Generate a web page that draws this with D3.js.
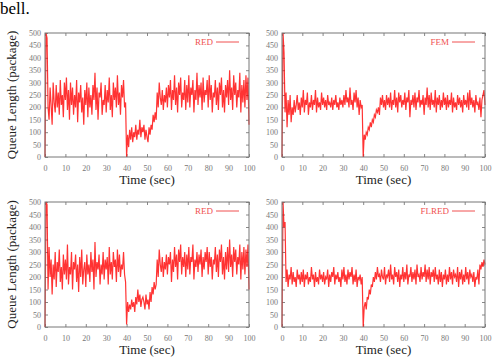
<!DOCTYPE html>
<html>
<head>
<meta charset="utf-8">
<script src="https://cdn.jsdelivr.net/npm/d3@7"></script>
<style>
  body { margin: 0; background: #fff; }
  svg { display: block; }
</style>
</head>
<body>
<div id="chart"></div>
<script>
// queue length samples, one every 0.5 sec from 0 to 100
const red1 = [
  0, 500, 480, 200, 150, 280, 210, 130, 300, 220, 180, 290, 200, 260, 170, 310, 210, 250, 160, 300,
  230, 320, 190, 270, 150, 300, 210, 280, 170, 250, 200, 310, 140, 260, 220, 290, 180, 240, 130, 270,
  210, 300, 160, 280, 200, 250, 170, 290, 230, 340, 190, 280, 150, 260, 240, 300, 170, 230, 210, 290,
  180, 270, 220, 320, 190, 250, 160, 300, 230, 280, 200, 330, 210, 260, 170, 290, 240, 310, 200, 220,
  0, 90, 40, 110, 70, 120, 60, 100, 80, 130, 70, 110, 90, 150, 80, 120, 100, 130, 70, 110,
  80, 60, 120, 90, 130, 110, 170, 140, 180, 150, 260, 200, 300, 240, 210, 270, 190, 250, 220, 280,
  200, 290, 240, 310, 190, 270, 230, 330, 210, 280, 180, 300, 250, 320, 200, 260, 230, 310, 190, 290,
  220, 330, 200, 280, 250, 310, 180, 270, 230, 340, 210, 290, 240, 300, 190, 320, 220, 270, 250, 310,
  200, 330, 230, 290, 180, 260, 240, 310, 210, 280, 190, 300, 250, 320, 200, 270, 180, 290, 240, 310,
  210, 350, 230, 280, 190, 330, 250, 300, 200, 270, 240, 340, 180, 290, 220, 310, 200, 330, 230, 320,
  130
];
const fem = [
  0, 500, 420, 180, 260, 120, 230, 170, 250, 140, 200, 170, 230, 180, 210, 250, 190, 220, 170, 240,
  200, 270, 180, 230, 210, 260, 170, 220, 200, 250, 190, 230, 210, 270, 180, 240, 200, 220, 190, 260,
  210, 240, 200, 230, 190, 250, 210, 220, 200, 240, 190, 230, 210, 250, 200, 220, 190, 240, 210, 230,
  200, 250, 210, 270, 220, 240, 200, 280, 210, 230, 190, 260, 220, 270, 200, 240, 170, 230, 200, 210,
  0, 90, 70, 100, 90, 120, 110, 140, 120, 150, 140, 170, 160, 190, 180, 200, 170, 240, 210, 250,
  200, 230, 190, 250, 210, 240, 200, 260, 190, 230, 210, 270, 200, 240, 180, 260, 220, 250, 200, 230,
  210, 260, 190, 240, 220, 270, 160, 230, 210, 250, 200, 260, 190, 240, 220, 270, 200, 230, 210, 250,
  170, 240, 210, 280, 200, 250, 190, 260, 210, 230, 200, 270, 180, 240, 210, 250, 190, 230, 200, 260,
  210, 240, 190, 250, 200, 230, 210, 260, 180, 240, 200, 220, 190, 250, 210, 240, 200, 230, 180, 250,
  210, 230, 200, 260, 190, 270, 210, 240, 200, 230, 180, 250, 210, 220, 190, 240, 160, 230, 250, 270,
  210
];
const red2 = [
  0, 500, 490, 150, 320, 200, 270, 130, 250, 190, 300, 160, 260, 220, 310, 180, 240, 150, 290, 210,
  270, 190, 330, 170, 240, 210, 300, 150, 260, 230, 290, 180, 250, 140, 280, 200, 310, 170, 230, 260,
  160, 290, 210, 250, 180, 300, 220, 270, 150, 340, 200, 260, 230, 290, 170, 250, 210, 300, 190, 270,
  230, 280, 170, 320, 210, 260, 190, 300, 240, 270, 180, 310, 220, 290, 200, 250, 230, 300, 210, 180,
  10, 100, 60, 90, 70, 110, 80, 100, 60, 120, 90, 150, 100, 130, 80, 110, 120, 100, 70, 130,
  90, 110, 70, 140, 100, 160, 130, 180, 150, 170, 270, 200, 310, 250, 220, 280, 200, 260, 230, 290,
  210, 280, 250, 300, 180, 270, 220, 320, 240, 290, 190, 310, 260, 330, 210, 280, 240, 300, 200, 290,
  230, 320, 210, 280, 260, 330, 190, 270, 240, 300, 220, 290, 250, 310, 200, 280, 230, 300, 260, 320,
  210, 300, 240, 280, 190, 270, 250, 320, 220, 290, 200, 310, 260, 330, 210, 280, 190, 300, 230, 320,
  220, 350, 240, 290, 200, 320, 260, 310, 210, 280, 250, 330, 190, 300, 230, 320, 210, 310, 240, 330,
  150
];
const flred = [
  0, 500, 400, 420, 180, 230, 160, 210, 190, 240, 170, 220, 180, 200, 160, 230, 190, 210, 170, 220,
  180, 230, 160, 210, 190, 220, 170, 200, 180, 240, 190, 210, 160, 220, 180, 200, 170, 230, 190, 210,
  180, 220, 170, 200, 190, 230, 160, 210, 180, 220, 200, 240, 170, 210, 190, 220, 180, 200, 160, 230,
  190, 240, 180, 210, 170, 230, 190, 220, 200, 240, 170, 210, 180, 230, 160, 200, 190, 210, 170, 200,
  0, 80, 100, 70, 120, 110, 150, 130, 170, 160, 200, 180, 220, 190, 240, 200, 210, 180, 230, 200,
  190, 240, 170, 210, 200, 230, 180, 250, 190, 210, 170, 240, 200, 220, 180, 230, 160, 210, 190, 240,
  180, 220, 190, 250, 170, 210, 200, 240, 180, 220, 190, 230, 170, 250, 200, 210, 180, 240, 190, 220,
  200, 250, 180, 230, 190, 240, 170, 220, 200, 230, 180, 240, 190, 210, 170, 230, 180, 220, 160, 210,
  190, 230, 170, 210, 180, 240, 190, 220, 170, 230, 200, 210, 180, 240, 160, 220, 190, 230, 170, 210,
  180, 240, 190, 220, 170, 230, 200, 210, 180, 220, 160, 200, 190, 230, 170, 250, 230, 260, 240, 270,
  250
];
const legends = ["RED", "FEM", "RED", "FLRED"];
const xTicks = [0, 10, 20, 30, 40, 50, 60, 70, 80, 90, 100];
const yTicks = [0, 50, 100, 150, 200, 250, 300, 350, 400, 450, 500];
const step = 0.5;

const W = 496, H = 358;
const svg = d3.select("#chart").append("svg")
  .attr("width", W).attr("height", H);

// leftover text from the page above the figure
svg.append("text")
  .attr("x", 0).attr("y", 14)
  .style("font-family", "Liberation Serif")
  .style("font-size", "17px")
  .text("bell.");

const panels = [
  { data: red1, name: legends[0], left: 45, right: 249, top: 33, bottom: 157 },
  { data: fem, name: legends[1], left: 282, right: 485, top: 33, bottom: 157 },
  { data: red2, name: legends[2], left: 45, right: 249, top: 202, bottom: 327 },
  { data: flred, name: legends[3], left: 282, right: 485, top: 202, bottom: 327 }
];

panels.forEach(function (p, i) {
  const x = d3.scaleLinear().domain([0, 100]).range([p.left, p.right]);
  const y = d3.scaleLinear().domain([0, 500]).range([p.bottom, p.top]);
  const g = svg.append("g");
  const tickStyle = function (ax) {
    ax.select(".domain").remove();
    ax.selectAll("line").attr("stroke", "#888");
    ax.selectAll("text")
      .style("font-family", "Liberation Serif")
      .style("font-size", "8px")
      .attr("fill", "#777");
  };

  // inner ticks on all four sides, like gnuplot
  g.append("g").attr("transform", `translate(0,${p.bottom})`)
    .call(d3.axisBottom(x).tickValues(xTicks).tickSizeInner(-3).tickSizeOuter(0).tickPadding(8))
    .call(tickStyle);
  g.append("g").attr("transform", `translate(0,${p.top})`)
    .call(d3.axisTop(x).tickValues(xTicks).tickSizeInner(-3).tickSizeOuter(0).tickFormat(""))
    .call(tickStyle);
  g.append("g").attr("transform", `translate(${p.left},0)`)
    .call(d3.axisLeft(y).tickValues(yTicks).tickSizeInner(-3).tickSizeOuter(0).tickPadding(4))
    .call(tickStyle);
  g.append("g").attr("transform", `translate(${p.right},0)`)
    .call(d3.axisRight(y).tickValues(yTicks).tickSizeInner(-3).tickSizeOuter(0).tickFormat(""))
    .call(tickStyle);

  // the series
  const line = d3.line()
    .x(function (d, j) { return x(j * step); })
    .y(function (d) { return y(d); });
  g.append("path")
    .datum(p.data)
    .attr("fill", "none")
    .attr("stroke", "#ff0000")
    .attr("stroke-width", 1.2)
    .attr("stroke-opacity", 0.8)
    .attr("d", line);

  // frame
  g.append("rect")
    .attr("x", p.left).attr("y", p.top)
    .attr("width", p.right - p.left).attr("height", p.bottom - p.top)
    .attr("fill", "none")
    .attr("stroke", "#777")
    .attr("stroke-width", 1);

  // legend
  const ly = p.top + 9;
  g.append("text")
    .attr("x", p.right - 36).attr("y", ly + 3)
    .attr("text-anchor", "end")
    .attr("fill", "#f05050")
    .style("font-family", "Liberation Serif")
    .style("font-size", "9px")
    .text(p.name);
  g.append("line")
    .attr("x1", p.right - 33).attr("x2", p.right - 10)
    .attr("y1", ly).attr("y2", ly)
    .attr("stroke", "#f05050")
    .attr("stroke-width", 1);

  // x axis label
  svg.append("text")
    .attr("x", (p.left + p.right) / 2)
    .attr("y", p.bottom + 27)
    .attr("text-anchor", "middle")
    .style("font-family", "Liberation Serif")
    .style("font-size", "13px")
    .attr("fill", "#222")
    .text("Time (sec)");

  // y axis label, only on the left column
  if (i % 2 === 0) {
    svg.append("text")
      .attr("transform", `translate(16,${(p.top + p.bottom) / 2}) rotate(-90)`)
      .attr("text-anchor", "middle")
      .style("font-family", "Liberation Serif")
      .style("font-size", "13px")
      .attr("fill", "#222")
      .text("Queue Length (package)");
  }
});
</script>
</body>
</html>
